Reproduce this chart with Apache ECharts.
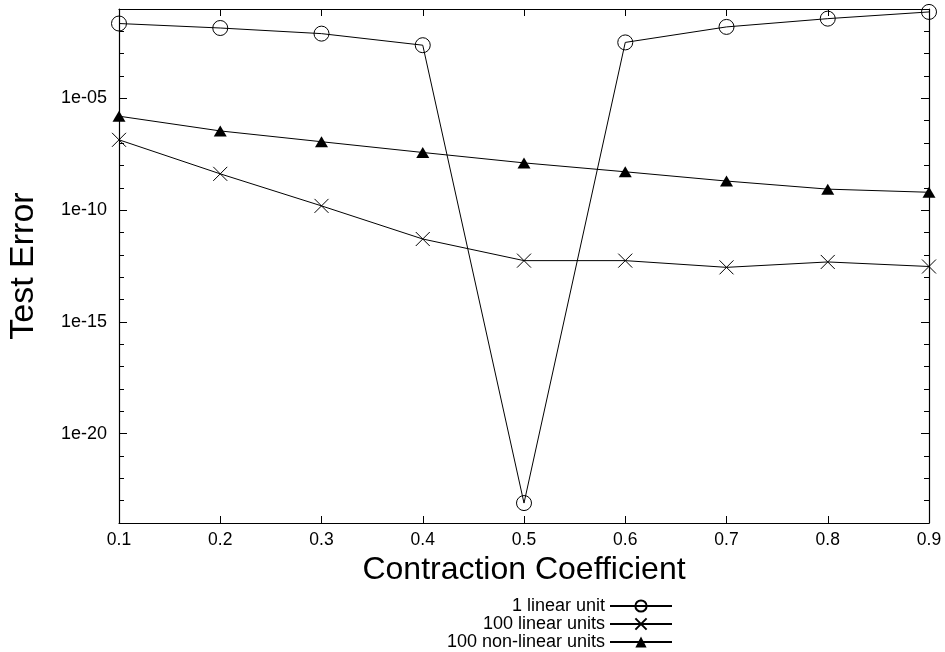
<!DOCTYPE html>
<html><head><meta charset="utf-8">
<script src="https://cdn.jsdelivr.net/npm/echarts@6/dist/echarts.min.js"></script>
<style>html,body{margin:0;padding:0;background:#fff}#c{width:945px;height:652px}</style>
</head><body><div id="c"></div>
<script>
const categories = ['0.1', '0.2', '0.3', '0.4', '0.5', '0.6', '0.7', '0.8', '0.9'];
const oneLinear = [0.0224, 0.0141, 0.0079, 0.0024, 7.8e-24, 0.0032, 0.0158, 0.037, 0.074];
const hundredLinear = [1.4e-7, 4.2e-9, 1.55e-10, 5.1e-12, 5.5e-13, 5.5e-13, 2.75e-13, 4.8e-13, 3.0e-13];
const hundredNonLinear = [1.6e-6, 3.5e-7, 1.15e-7, 3.8e-8, 1.3e-8, 5.2e-9, 2.0e-9, 8.7e-10, 6.3e-10];
const yTickLabels = ['1e-20', '1e-15', '1e-10', '1e-05'];
const yTickExponents = [-20, -15, -10, -5];
const seriesNames = ['1 linear unit', '100 linear units', '100 non-linear units'];

const FONT = 'Liberation Sans, Arial, sans-serif';
const toExp = arr => arr.map(v => Math.log10(v));
const yMin = -24, yMax = -1;

const lineAxis = { show: true, lineStyle: { color: '#000', width: 1.2 } };
const common = {
  type: 'value', min: yMin, max: yMax, interval: 1,
  splitLine: { show: false }
};

const chart = echarts.init(document.getElementById('c'), null, { renderer: 'canvas' });
chart.setOption({
  animation: false,
  backgroundColor: '#fff',
  textStyle: { fontFamily: FONT, color: '#000' },
  grid: { left: 119, right: 16, top: 9, bottom: 129, containLabel: false, outerBoundsMode: 'none' },
  legend: {
    orient: 'vertical', align: 'right', right: 272, top: 597, height: 200,
    padding: 0,
    itemWidth: 62, itemHeight: 14, itemGap: 0,
    textStyle: { fontFamily: FONT, fontSize: 18, color: '#000', padding: 0 },
    data: seriesNames
  },
  xAxis: [
    {
      type: 'category', data: categories, boundaryGap: false, position: 'bottom',
      name: 'Contraction Coefficient', nameLocation: 'middle', nameGap: 30,
      nameTextStyle: { fontFamily: FONT, fontSize: 32, color: '#000' },
      axisLine: lineAxis,
      axisTick: { show: true, inside: true, length: 7, alignWithLabel: true, lineStyle: { color: '#000' } },
      axisLabel: { fontFamily: FONT, fontSize: 17.5, color: '#000', margin: 8 },
      splitLine: { show: false }
    },
    {
      type: 'category', data: categories, boundaryGap: false, position: 'top',
      axisLine: lineAxis,
      axisTick: { show: true, inside: true, length: 7, lineStyle: { color: '#000' } },
      axisLabel: { show: false },
      splitLine: { show: false }
    }
  ],
  yAxis: [
    Object.assign({}, common, {
      position: 'left',
      name: 'Test Error', nameLocation: 'middle', nameGap: 78,
      nameTextStyle: { fontFamily: FONT, fontSize: 34, color: '#000' },
      axisLine: lineAxis,
      axisTick: { show: true, inside: true, length: 5, lineStyle: { color: '#000' } },
      axisLabel: {
        fontFamily: FONT, fontSize: 18, color: '#000', margin: 12,
        customValues: yTickExponents,
        formatter: v => { const i = yTickExponents.indexOf(Math.round(v)); return i >= 0 ? yTickLabels[i] : ''; }
      }
    }),
    Object.assign({}, common, {
      position: 'left',
      axisLine: { show: false },
      axisTick: { show: true, inside: true, length: 8, customValues: yTickExponents, lineStyle: { color: '#000' } },
      axisLabel: { show: false }
    }),
    Object.assign({}, common, {
      position: 'right',
      axisLine: lineAxis,
      axisTick: { show: true, inside: true, length: 5, lineStyle: { color: '#000' } },
      axisLabel: { show: false }
    }),
    Object.assign({}, common, {
      position: 'right',
      axisLine: { show: false },
      axisTick: { show: true, inside: true, length: 8, customValues: yTickExponents, lineStyle: { color: '#000' } },
      axisLabel: { show: false }
    })
  ],
  series: [
    {
      name: seriesNames[0], type: 'line', data: toExp(oneLinear),
      symbol: 'circle', symbolSize: 15,
      lineStyle: { color: '#000', width: 1 },
      itemStyle: { color: 'rgba(0,0,0,0)', borderColor: '#000', borderWidth: 1 }
    },
    {
      name: seriesNames[1], type: 'line', data: toExp(hundredLinear),
      symbol: 'path://M0,0L10,10M10,0L0,10', symbolSize: 14,
      lineStyle: { color: '#000', width: 1 },
      itemStyle: { color: 'none', borderColor: '#000', borderWidth: 1 }
    },
    {
      name: seriesNames[2], type: 'line', data: toExp(hundredNonLinear),
      symbol: 'triangle', symbolSize: [13, 11],
      lineStyle: { color: '#000', width: 1 },
      itemStyle: { color: '#000', borderColor: '#000', borderWidth: 0 }
    }
  ]
});
</script></body></html>
